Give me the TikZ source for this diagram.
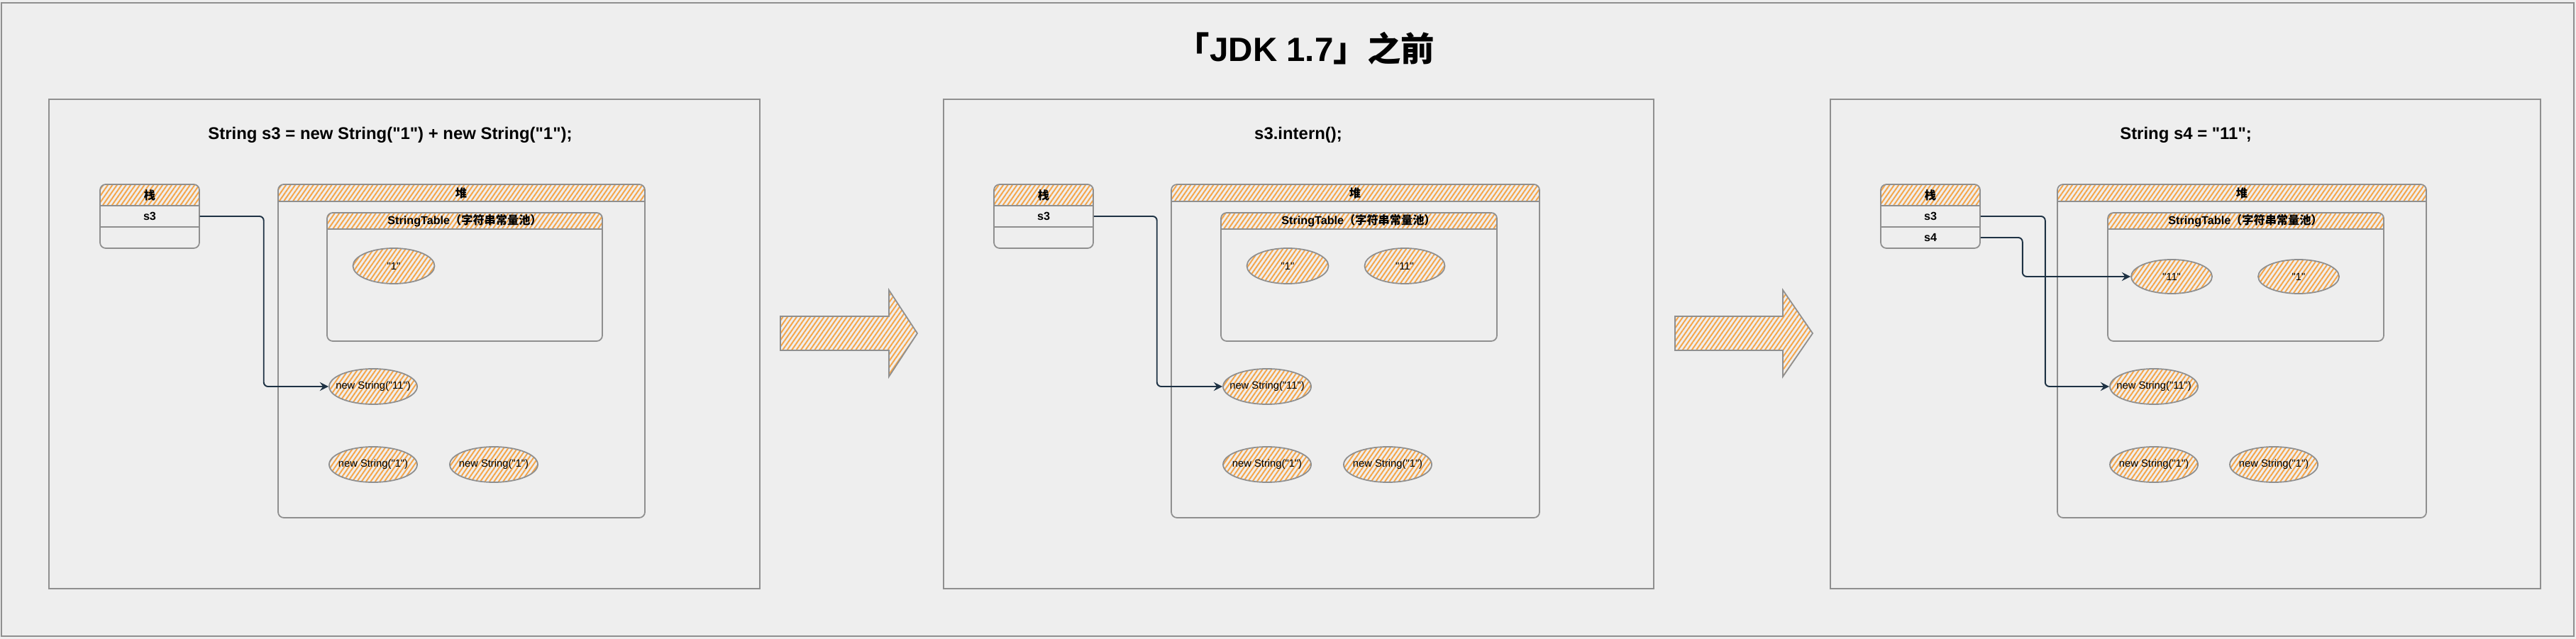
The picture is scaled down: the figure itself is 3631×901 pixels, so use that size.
\documentclass[tikz,border=0pt]{standalone}
\usepackage{fontspec}
\setmainfont{Liberation Sans}[Ligatures=TeXOff]
\newfontfamily\cjk{Noto Sans CJK SC}
\usepackage{tikz}
\usetikzlibrary{shapes.geometric,patterns.meta}
\definecolor{bggray}{HTML}{EEEEEE}
\definecolor{linegray}{HTML}{8F8F8F}
\definecolor{hatchorange}{HTML}{F5A548}
\definecolor{refblue}{HTML}{1E3244}

\begin{document}
\begin{tikzpicture}[>=stealth, x=0.01cm, y=-0.01cm,
		boxline/.style={draw=linegray, line width=0.5pt},
		hatch/.style={pattern={Lines[angle=55,distance=1.5pt,line width=0.55pt]}, pattern color=hatchorange},
		lane/.style={boxline, rounded corners=0.08cm, path picture={\fill[hatch, sharp corners] (path picture bounding box.north west) rectangle ([yshift=-#1]path picture bounding box.north east);}},
		blob/.style={ellipse, boxline, hatch, inner sep=0pt, inner xsep=-0.5cm, minimum width=1.24cm, minimum height=0.5cm, font=\fontsize{4.2}{5}\selectfont},
		cell/.style={minimum width=1.4cm, minimum height=0.3cm, inner sep=0pt, font=\fontsize{4.6}{5}\selectfont\bfseries},
		lanehead/.style={inner sep=0pt, font=\fontsize{4.6}{5}\selectfont\bfseries},
		caption/.style={font=\fontsize{6.8}{8}\selectfont\bfseries},
		ptr/.style={->, draw=refblue, line width=0.55pt, rounded corners=0.06cm}]
		\fill[bggray] (0,0) rectangle (3631,901);
		\useasboundingbox (0,0) rectangle (3631,901);
		\draw[boxline] (2,4) rectangle (3628,897);
		\node[font=\fontsize{13.5}{16}\selectfont\bfseries] (title) at (1840,68) {{\cjk 「}JDK 1.7{\cjk 」之前}};

		\draw[boxline] (69,140) rectangle (1071,830);
		\node[caption] (code1) at (550,190) {String s3 = new String("1") + new String("1");};
		\draw[lane=0.3cm] (141,260) rectangle (281,350);
		\draw[boxline] (141,290) -- (281,290) (141,320) -- (281,320);
		\node[lanehead] (stack1) at (211,275) {\cjk 栈};
		\node[cell] (s3a) at (211,305) {s3};
		\draw[lane=0.24cm] (392,260) rectangle (909,730);
		\draw[boxline] (392,284) -- (909,284);
		\node[lanehead] (heap1) at (650,272) {\cjk 堆};
		\draw[lane=0.23cm] (461,300) rectangle (849,481);
		\draw[boxline] (461,323) -- (849,323);
		\node[lanehead] (pool1) at (655,311) {StringTable{\cjk （字符串常量池）}};
		\node[blob, minimum width=1.15cm] (lit1a) at (555,375) {"1"};
		\node[blob] (new11a) at (526,545) {new String("11")};
		\node[blob] (newl1a) at (526,655) {new String("1")};
		\node[blob] (newr1a) at (696,655) {new String("1")};
		\draw[ptr] (s3a.east) -- ++(90,0) |- (new11a.west);

		\draw[boxline, hatch] (1100,446) -- (1253,446) -- (1253,409) -- (1293,470) -- (1253,531) -- (1253,494) -- (1100,494) -- cycle;

		\draw[boxline] (1330,140) rectangle (2331,830);
		\node[caption] (code2) at (1830,190) {s3.intern();};
		\draw[lane=0.3cm] (1401,260) rectangle (1541,350);
		\draw[boxline] (1401,290) -- (1541,290) (1401,320) -- (1541,320);
		\node[lanehead] (stack2) at (1471,275) {\cjk 栈};
		\node[cell] (s3b) at (1471,305) {s3};
		\draw[lane=0.24cm] (1651,260) rectangle (2170,730);
		\draw[boxline] (1651,284) -- (2170,284);
		\node[lanehead] (heap2) at (1910,272) {\cjk 堆};
		\draw[lane=0.23cm] (1721,300) rectangle (2110,481);
		\draw[boxline] (1721,323) -- (2110,323);
		\node[lanehead] (pool2) at (1915,311) {StringTable{\cjk （字符串常量池）}};
		\node[blob, minimum width=1.15cm] (lit1b) at (1815,375) {"1"};
		\node[blob, minimum width=1.13cm] (lit11b) at (1980,375) {"11"};
		\node[blob] (new11b) at (1786,545) {new String("11")};
		\node[blob] (newl1b) at (1786,655) {new String("1")};
		\node[blob] (newr1b) at (1956,655) {new String("1")};
		\draw[ptr] (s3b.east) -- ++(89,0) |- (new11b.west);

		\draw[boxline, hatch] (2361,446) -- (2513,446) -- (2513,409) -- (2555,470) -- (2513,531) -- (2513,494) -- (2361,494) -- cycle;

		\draw[boxline] (2580,140) rectangle (3581,830);
		\node[caption] (code3) at (3081,190) {String s4 = "11";};
		\draw[lane=0.3cm] (2651,260) rectangle (2791,350);
		\draw[boxline] (2651,290) -- (2791,290) (2651,320) -- (2791,320);
		\node[lanehead] (stack3) at (2721,275) {\cjk 栈};
		\node[cell] (s3c) at (2721,305) {s3};
		\node[cell] (s4c) at (2721,335) {s4};
		\draw[lane=0.24cm] (2900,260) rectangle (3420,730);
		\draw[boxline] (2900,284) -- (3420,284);
		\node[lanehead] (heap3) at (3160,272) {\cjk 堆};
		\draw[lane=0.23cm] (2971,300) rectangle (3360,481);
		\draw[boxline] (2971,323) -- (3360,323);
		\node[lanehead] (pool3) at (3165,311) {StringTable{\cjk （字符串常量池）}};
		\node[blob, minimum width=1.14cm, minimum height=0.48cm] (lit11c) at (3061,390) {"11"};
		\node[blob, minimum width=1.14cm, minimum height=0.48cm] (lit1c) at (3240,390) {"1"};
		\node[blob] (new11c) at (3036,545) {new String("11")};
		\node[blob] (newl1c) at (3036,655) {new String("1")};
		\node[blob] (newr1c) at (3205,655) {new String("1")};
		\draw[ptr] (s3c.east) -- ++(91,0) |- (new11c.west);
		\draw[ptr] (s4c.east) -- ++(59,0) |- (lit11c.west);
	\end{tikzpicture}
\end{document}
